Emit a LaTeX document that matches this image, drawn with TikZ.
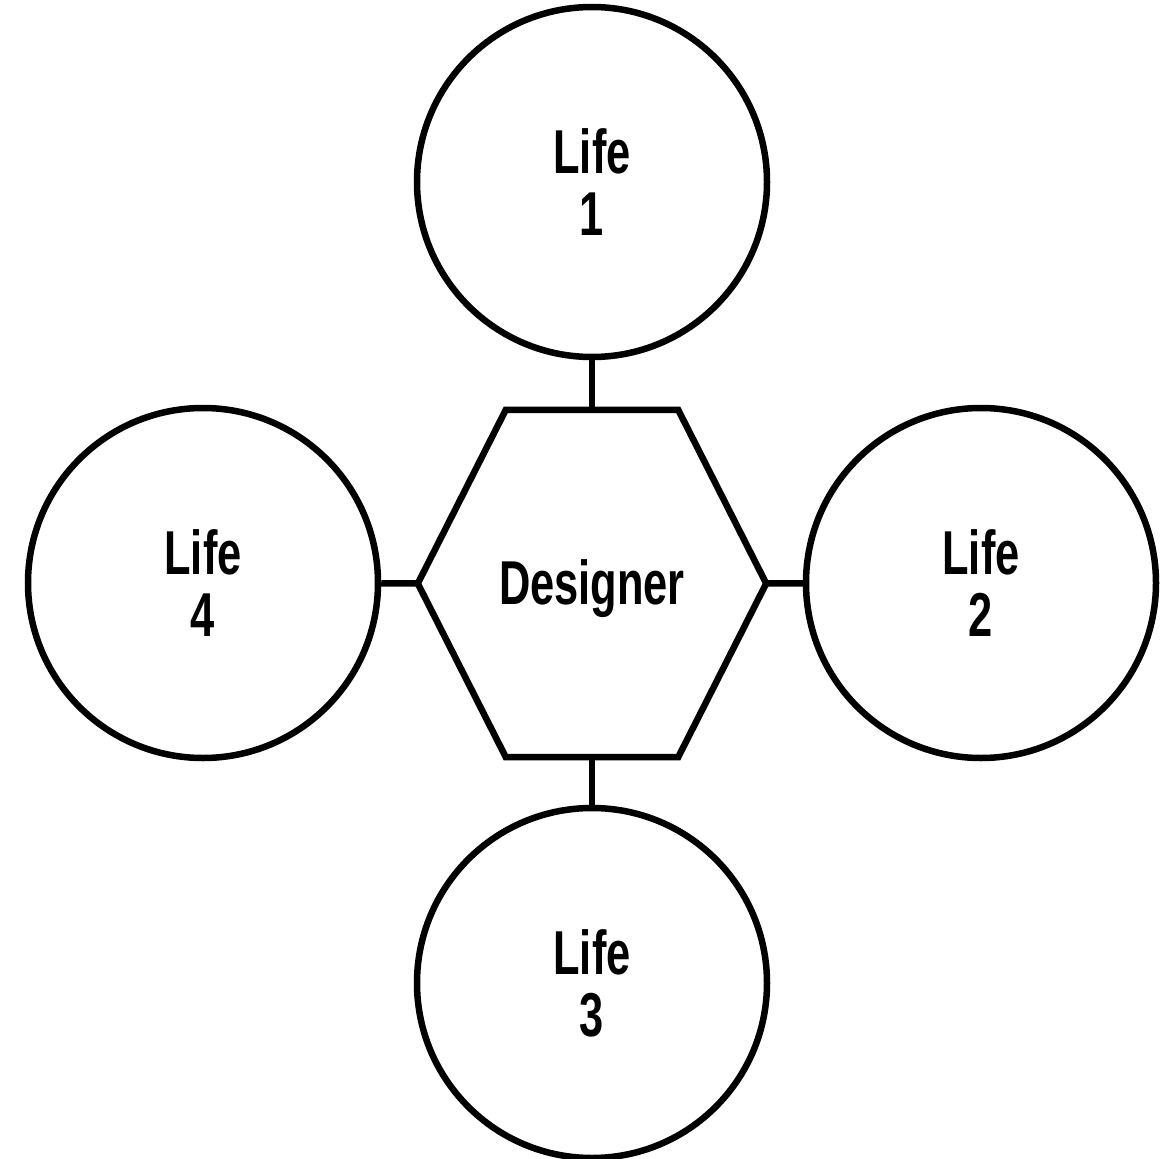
\documentclass[tikz,border=0pt]{standalone}
\usepackage{fontspec}
\setmainfont{Liberation Sans}[FakeStretch=0.7]
\usetikzlibrary{positioning}

\begin{document}
\begin{tikzpicture}[
  x=1pt, y=-1pt,
  edge/.style={draw, line width=6.5pt},
  life/.style={circle, edge, minimum size=350pt, inner sep=0pt, align=center,
    font=\fontsize{62}{62}\selectfont\bfseries},
  hexbox/.style={rectangle, minimum width=348pt, minimum height=347pt, inner sep=0pt,
    font=\fontsize{62}{62}\selectfont\bfseries}
]
\useasboundingbox (0,0) rectangle (1171,1159);
\node[hexbox] (designer) at (592,583.5) {\raisebox{-21pt}[0pt][0pt]{Designer}};
\node[life] (life1) at (592,182) {Life\\1};
\node[life] (life2) at (981,583) {Life\\2};
\node[life] (life3) at (592,983) {Life\\3};
\node[life] (life4) at (203,583) {Life\\4};

% hexagon round the designer
\draw[edge] (designer.west) -- ([xshift=88pt]designer.north west)
  -- ([xshift=-88pt]designer.north east) -- (designer.east)
  -- ([xshift=-88pt]designer.south east) -- ([xshift=88pt]designer.south west) -- cycle;

\draw[edge] (life1) -- (designer.north);
\draw[edge] (life2) -- (designer.east);
\draw[edge] (life3) -- (designer.south);
\draw[edge] (life4) -- (designer.west);
\end{tikzpicture}
\end{document}
